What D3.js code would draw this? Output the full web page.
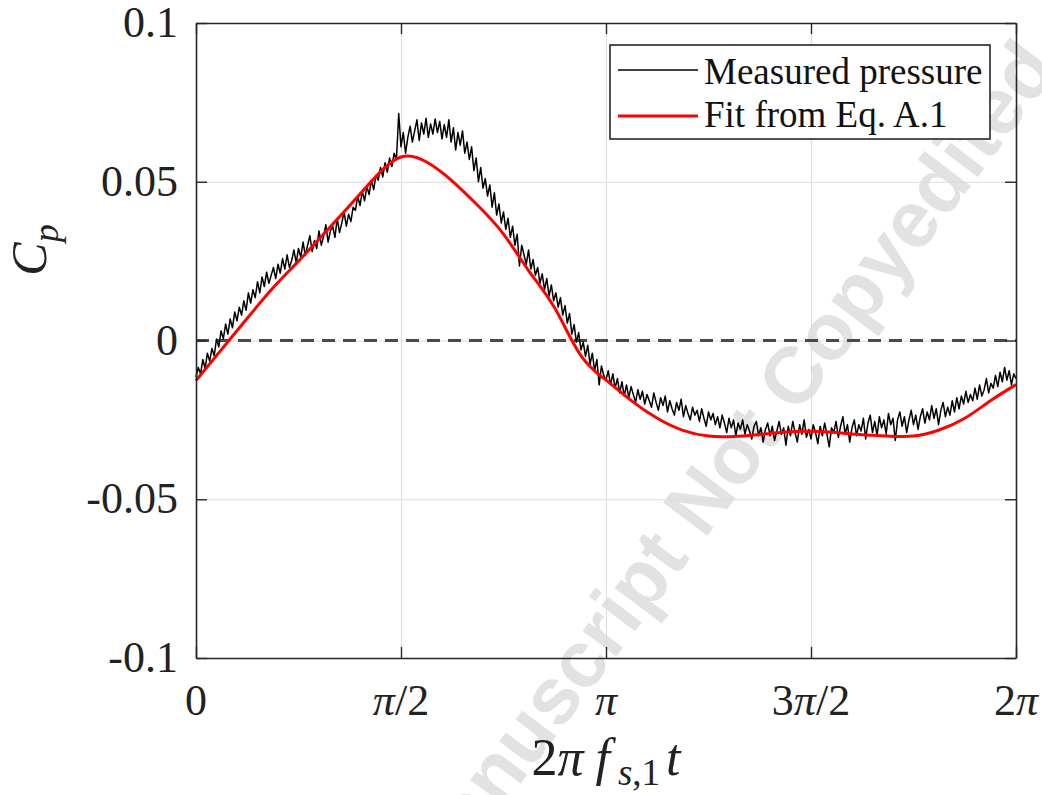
<!DOCTYPE html>
<html>
<head>
<meta charset="utf-8">
<script src="https://cdn.jsdelivr.net/npm/d3@7"></script>
<style>
  html, body { margin: 0; padding: 0; background: #fff; }
  svg { display: block; }
</style>
</head>
<body>
<svg id="chart" width="1042" height="795"></svg>
<script>
// ---------------- data ----------------
const xTickValues = [0, Math.PI / 2, Math.PI, 3 * Math.PI / 2, 2 * Math.PI];
const xTickLabels = ["0", "π/2", "π", "3π/2", "2π"];
const yTickValues = [-0.1, -0.05, 0, 0.05, 0.1];
const yTickLabels = ["-0.1", "-0.05", "0", "0.05", "0.1"];
const legendLabels = ["Measured pressure", "Fit from Eq. A.1"];

// Measured Cp, 361 evenly spaced samples over one period (0 .. 2π)
const measuredCp = [
  -0.0115, -0.0085, -0.0105, -0.0060, -0.0088, -0.0040, -0.0065, -0.0025, -0.0048, 0.0005,
  -0.0020, 0.0030, 0.0005, 0.0052, 0.0020, 0.0068, 0.0040, 0.0090, 0.0062, 0.0105,
  0.0080, 0.0125, 0.0095, 0.0150, 0.0118, 0.0160, 0.0135, 0.0185, 0.0150, 0.0200,
  0.0170, 0.0215, 0.0180, 0.0205, 0.0230, 0.0195, 0.0240, 0.0212, 0.0258, 0.0225,
  0.0270, 0.0230, 0.0252, 0.0285, 0.0245, 0.0290, 0.0262, 0.0310, 0.0268, 0.0300,
  0.0330, 0.0280, 0.0315, 0.0290, 0.0345, 0.0300, 0.0328, 0.0365, 0.0310, 0.0345,
  0.0360, 0.0325, 0.0385, 0.0340, 0.0370, 0.0405, 0.0360, 0.0398, 0.0375, 0.0420,
  0.0410, 0.0455, 0.0425, 0.0470, 0.0440, 0.0485, 0.0460, 0.0505, 0.0475, 0.0520,
  0.0505, 0.0545, 0.0515, 0.0560, 0.0530, 0.0575, 0.0548, 0.0590, 0.0570, 0.0715,
  0.0610, 0.0655, 0.0590, 0.0640, 0.0675, 0.0625, 0.0660, 0.0695, 0.0630, 0.0685,
  0.0650, 0.0700, 0.0640, 0.0682, 0.0650, 0.0698, 0.0655, 0.0690, 0.0635, 0.0680,
  0.0640, 0.0695, 0.0625, 0.0670, 0.0600, 0.0655, 0.0615, 0.0660, 0.0590, 0.0625,
  0.0570, 0.0610, 0.0535, 0.0575, 0.0500, 0.0545, 0.0480, 0.0510, 0.0455, 0.0490,
  0.0420, 0.0465, 0.0395, 0.0430, 0.0370, 0.0405, 0.0350, 0.0385, 0.0325, 0.0360,
  0.0300, 0.0335, 0.0235, 0.0300, 0.0270, 0.0240, 0.0285, 0.0225, 0.0255, 0.0205,
  0.0230, 0.0180, 0.0210, 0.0160, 0.0195, 0.0140, 0.0175, 0.0125, 0.0150, 0.0105,
  0.0135, 0.0080, 0.0110, 0.0055, 0.0085, 0.0020, 0.0050, -0.0005, 0.0025, -0.0030,
  -0.0005, -0.0050, -0.0015, -0.0075, -0.0040, -0.0095, -0.0060, -0.0140, -0.0080, -0.0110,
  -0.0125, -0.0095, -0.0140, -0.0105, -0.0150, -0.0120, -0.0165, -0.0130, -0.0175, -0.0140,
  -0.0180, -0.0145, -0.0170, -0.0195, -0.0155, -0.0185, -0.0160, -0.0200, -0.0170, -0.0190,
  -0.0210, -0.0165, -0.0195, -0.0220, -0.0180, -0.0205, -0.0175, -0.0225, -0.0190, -0.0215,
  -0.0235, -0.0195, -0.0220, -0.0185, -0.0240, -0.0205, -0.0230, -0.0250, -0.0210, -0.0235,
  -0.0220, -0.0255, -0.0215, -0.0245, -0.0270, -0.0225, -0.0250, -0.0230, -0.0265, -0.0240,
  -0.0275, -0.0235, -0.0260, -0.0290, -0.0245, -0.0275, -0.0250, -0.0300, -0.0260, -0.0280,
  -0.0250, -0.0295, -0.0265, -0.0285, -0.0310, -0.0270, -0.0255, -0.0300, -0.0275, -0.0320,
  -0.0280, -0.0260, -0.0300, -0.0270, -0.0315, -0.0285, -0.0255, -0.0295, -0.0275, -0.0330,
  -0.0270, -0.0300, -0.0255, -0.0290, -0.0320, -0.0265, -0.0295, -0.0250, -0.0305, -0.0280,
  -0.0310, -0.0265, -0.0290, -0.0325, -0.0270, -0.0300, -0.0260, -0.0295, -0.0335, -0.0275,
  -0.0290, -0.0255, -0.0305, -0.0270, -0.0240, -0.0295, -0.0265, -0.0320, -0.0275, -0.0250,
  -0.0300, -0.0265, -0.0285, -0.0245, -0.0310, -0.0260, -0.0235, -0.0290, -0.0255, -0.0300,
  -0.0240, -0.0275, -0.0250, -0.0295, -0.0230, -0.0265, -0.0245, -0.0315, -0.0250, -0.0225,
  -0.0270, -0.0240, -0.0290, -0.0250, -0.0220, -0.0265, -0.0235, -0.0280, -0.0240, -0.0215,
  -0.0260, -0.0225, -0.0250, -0.0205, -0.0245, -0.0215, -0.0265, -0.0220, -0.0195, -0.0240,
  -0.0210, -0.0235, -0.0190, -0.0225, -0.0180, -0.0215, -0.0175, -0.0200, -0.0160, -0.0195,
  -0.0170, -0.0190, -0.0150, -0.0185, -0.0140, -0.0175, -0.0155, -0.0120, -0.0165, -0.0135,
  -0.0150, -0.0110, -0.0145, -0.0100, -0.0130, -0.0085, -0.0125, -0.0095, -0.0140, -0.0105,
  -0.0120
];

// Fitted Cp (Eq. A.1), 33 evenly spaced samples over one period (0 .. 2π)
const fitCp = [
  -0.0126, -0.0028, 0.0070, 0.0165, 0.0250, 0.0337, 0.0425, 0.0515, 0.0578,
  0.0562, 0.0502, 0.0425, 0.0335, 0.0218, 0.0102, -0.0045, -0.0125,
  -0.0190, -0.0245, -0.0283, -0.0301, -0.0302, -0.0296, -0.0288, -0.0286,
  -0.0290, -0.0297, -0.0301, -0.0301, -0.0282, -0.0245, -0.0190, -0.0139
];

// ---------------- drawing ----------------
const svg = d3.select("#chart");
const margin = { left: 196, right: 1016, top: 23, bottom: 658 };
const x = d3.scaleLinear().domain([0, 2 * Math.PI]).range([margin.left, margin.right]);
const y = d3.scaleLinear().domain([-0.1, 0.1]).range([margin.bottom, margin.top]);
const serif = "'Liberation Serif', 'Times New Roman', serif";

// watermark (behind everything)
const wm = svg.append("g")
  .attr("transform", "translate(704,540) rotate(-53)")
  .attr("font-family", "'Liberation Sans', Arial, sans-serif")
  .attr("font-weight", "bold")
  .attr("font-size", 80)
  .attr("fill", "#e2e2e2");
wm.append("text").attr("text-anchor", "end").text("Accepted Manuscript\u00a0");
wm.append("text").attr("text-anchor", "start").text("Not Copyedited");

// grid
const gridColor = "#dcdcdc";
svg.append("g")
  .attr("transform", `translate(0,${margin.bottom})`)
  .call(d3.axisBottom(x).tickValues(xTickValues).tickSize(-(margin.bottom - margin.top)).tickFormat(""))
  .call(g => g.select(".domain").remove())
  .call(g => g.selectAll("line").attr("stroke", gridColor).attr("stroke-width", 1));
svg.append("g")
  .attr("transform", `translate(${margin.left},0)`)
  .call(d3.axisLeft(y).tickValues(yTickValues).tickSize(-(margin.right - margin.left)).tickFormat(""))
  .call(g => g.select(".domain").remove())
  .call(g => g.selectAll("line").attr("stroke", gridColor).attr("stroke-width", 1));

// zero dashed line
svg.append("line")
  .attr("x1", x(0)).attr("x2", x(2 * Math.PI))
  .attr("y1", y(0)).attr("y2", y(0))
  .attr("stroke", "#4a4a4a").attr("stroke-width", 3)
  .attr("stroke-dasharray", "13,8");

// lines
const phaseM = measuredCp.map((_, i) => i * 2 * Math.PI / (measuredCp.length - 1));
const phaseF = fitCp.map((_, i) => i * 2 * Math.PI / (fitCp.length - 1));

svg.append("path")
  .datum(measuredCp.map((v, i) => [phaseM[i], v]))
  .attr("fill", "none").attr("stroke", "#000").attr("stroke-width", 1.5)
  .attr("stroke-linejoin", "round")
  .attr("d", d3.line().x(d => x(d[0])).y(d => y(d[1])));

svg.append("path")
  .datum(fitCp.map((v, i) => [phaseF[i], v]))
  .attr("fill", "none").attr("stroke", "#ff0000").attr("stroke-width", 3)
  .attr("d", d3.line().x(d => x(d[0])).y(d => y(d[1])).curve(d3.curveNatural));

// axes frame + inward ticks on all four sides
const tickLen = 11;
const axisColor = "#262626";
function styleAxis(g) {
  g.select(".domain").attr("stroke", axisColor).attr("stroke-width", 1.6);
  g.selectAll(".tick line").attr("stroke", axisColor).attr("stroke-width", 1.4);
  g.selectAll(".tick text").remove();
}
svg.append("g").attr("transform", `translate(0,${margin.bottom})`)
  .call(d3.axisBottom(x).tickValues(xTickValues).tickSizeInner(-tickLen).tickSizeOuter(0)).call(styleAxis);
svg.append("g").attr("transform", `translate(0,${margin.top})`)
  .call(d3.axisTop(x).tickValues(xTickValues).tickSizeInner(-tickLen).tickSizeOuter(0)).call(styleAxis);
svg.append("g").attr("transform", `translate(${margin.left},0)`)
  .call(d3.axisLeft(y).tickValues(yTickValues).tickSizeInner(-tickLen).tickSizeOuter(0)).call(styleAxis);
svg.append("g").attr("transform", `translate(${margin.right},0)`)
  .call(d3.axisRight(y).tickValues(yTickValues).tickSizeInner(-tickLen).tickSizeOuter(0)).call(styleAxis);

// tick labels
function addMath(textSel, str) {
  for (const ch of str.split(/(π)/)) {
    if (!ch) continue;
    textSel.append("tspan").attr("font-style", ch === "π" ? "italic" : "normal").text(ch);
  }
}
xTickValues.forEach((v, i) => {
  const t = svg.append("text")
    .attr("x", x(v)).attr("y", 715)
    .attr("text-anchor", "middle")
    .attr("font-family", serif).attr("font-size", 44).attr("fill", "#222");
  addMath(t, xTickLabels[i]);
});
yTickValues.forEach((v, i) => {
  svg.append("text")
    .attr("x", 178).attr("y", y(v) + 14)
    .attr("text-anchor", "end")
    .attr("font-family", serif).attr("font-size", 44).attr("fill", "#222")
    .text(yTickLabels[i]);
});

// x label: 2π f_{s,1} t
const xl = svg.append("text")
  .attr("x", x(Math.PI)).attr("y", 775)
  .attr("text-anchor", "middle")
  .attr("font-family", serif).attr("font-size", 52).attr("fill", "#222");
xl.append("tspan").text("2");
xl.append("tspan").attr("font-style", "italic").text("π");
xl.append("tspan").attr("font-style", "italic").attr("dx", 12).text("f");
xl.append("tspan").attr("font-style", "italic").attr("font-size", 37).attr("dx", 8).attr("dy", 10).text("s");
xl.append("tspan").attr("font-size", 37).text(",1");
xl.append("tspan").attr("font-style", "italic").attr("dy", -10).attr("dx", 6).text("t");

// y label: C_p
const yl = svg.append("text")
  .attr("transform", "translate(46,250) rotate(-90)")
  .attr("text-anchor", "middle")
  .attr("font-family", serif).attr("font-size", 50).attr("fill", "#222");
yl.append("tspan").attr("font-style", "italic").text("C");
yl.append("tspan").attr("font-style", "italic").attr("font-size", 36).attr("dy", 12).text("p");

// legend
const lg = svg.append("g");
lg.append("rect")
  .attr("x", 610).attr("y", 45).attr("width", 380).attr("height", 94)
  .attr("fill", "#fff").attr("stroke", "#262626").attr("stroke-width", 1.6);
const legendColors = ["#000", "#ff0000"];
const legendWidths = [1.5, 3];
const legendLineY = [70, 116];
const legendTextY = [84, 127];
legendLabels.forEach((lab, i) => {
  lg.append("line")
    .attr("x1", 618).attr("x2", 698).attr("y1", legendLineY[i]).attr("y2", legendLineY[i])
    .attr("stroke", legendColors[i]).attr("stroke-width", legendWidths[i]);
  lg.append("text")
    .attr("x", 704).attr("y", legendTextY[i])
    .attr("font-family", serif).attr("font-size", 37).attr("fill", "#111")
    .text(lab);
});
</script>
</body>
</html>
